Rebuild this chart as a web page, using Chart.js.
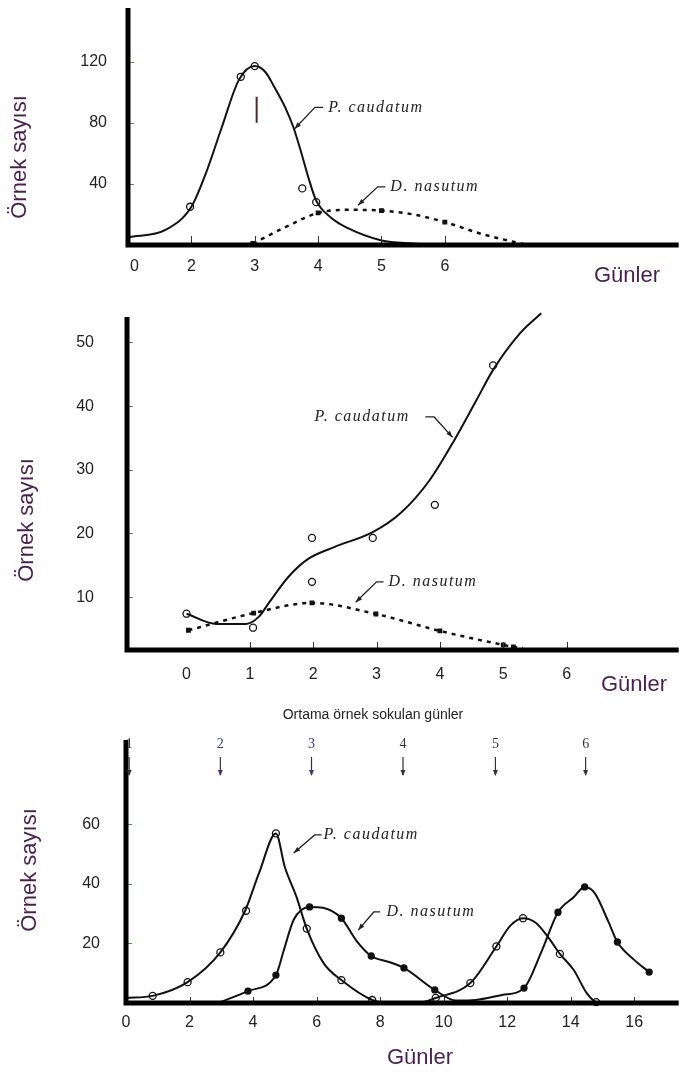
<!DOCTYPE html>
<html>
<head>
<meta charset="utf-8">
<script src="https://cdn.jsdelivr.net/npm/chart.js@4.4.1/dist/chart.umd.min.js"></script>
<style>
  html, body { margin: 0; padding: 0; background: #fff; }
  body { width: 684px; height: 1072px; position: relative; overflow: hidden; }
  canvas { position: absolute; left: 0; }
</style>
</head>
<body>
<canvas id="panel1" width="684" height="290" style="top:0"></canvas>
<canvas id="panel2" width="684" height="410" style="top:290px"></canvas>
<canvas id="panel3" width="684" height="372" style="top:700px"></canvas>
<script>
// ---- panel 1 ----
const p1XTicks = [1.1, 2, 3, 4, 5, 6];
const p1XLabels = ['0', '2', '3', '4', '5', '6'];
const p1YTicks = [40, 80, 120];
const p1CaudatumCurveX = [1.0, 1.6, 2.0, 2.23, 2.48, 2.75, 3.0, 3.17, 3.3, 3.48, 3.61, 3.73, 3.84, 3.97, 4.2, 4.47, 5.0, 5.5, 5.9];
const p1CaudatumCurveY = [5, 10, 25, 47, 77, 108, 117, 113, 104, 90, 77, 61, 45, 29, 18, 11, 3, 1, 0];
const p1CaudatumObsX = [1.98, 2.78, 3.0, 3.75, 3.97];
const p1CaudatumObsY = [25, 110, 117, 37, 28];
const p1NasutumCurveX = [2.97, 3.5, 4.0, 4.5, 5.0, 5.5, 6.0, 6.6, 7.3];
const p1NasutumCurveY = [1, 12, 21, 23, 22.5, 20, 15, 7, 0];
const p1NasutumObsX = [2.97, 4.0, 5.0, 6.0];
const p1NasutumObsY = [1, 21, 22.5, 15];
const p1PeakMarkX = [3.03, 3.03];
const p1PeakMarkY = [80, 97];

// ---- panel 2 ----
const p2XTicks = [0, 1, 2, 3, 4, 5, 6];
const p2XLabels = ['0', '1', '2', '3', '4', '5', '6'];
const p2YTicks = [10, 20, 30, 40, 50];
const p2CaudatumCurveX = [0, 0.47, 0.94, 1.14, 1.3, 1.61, 1.92, 2.34, 2.94, 3.38, 3.84, 4.23, 4.58, 4.84, 5.27, 5.6];
const p2CaudatumCurveY = [7.4, 5.8, 5.8, 6.9, 9.1, 13.2, 16, 17.9, 20.2, 23.2, 28.4, 34.7, 41, 45.7, 51.5, 54.6];
const p2CaudatumObsX = [0, 1.05, 1.98, 1.98, 2.94, 3.92, 4.84];
const p2CaudatumObsY = [7.4, 5.2, 19.3, 12.4, 19.3, 24.5, 46.4];
const p2NasutumCurveX = [0.03, 1.06, 1.98, 2.99, 4.0, 5.0, 5.16, 5.31];
const p2NasutumCurveY = [4.8, 7.5, 9.1, 7.35, 4.7, 2.5, 2.2, 2.0];
const p2NasutumObsX = [0.03, 1.06, 1.98, 2.99, 4.0, 5.0, 5.16];
const p2NasutumObsY = [4.8, 7.5, 9.1, 7.35, 4.7, 2.5, 2.2];

// ---- panel 3 ----
const p3XTicks = [0, 2, 4, 6, 8, 10, 12, 14, 16];
const p3XLabels = ['0', '2', '4', '6', '8', '10', '12', '14', '16'];
const p3YTicks = [20, 40, 60];
const p3CaudatumCurveX = [0, 0.84, 1.94, 2.97, 3.75, 4.19, 4.72, 5.0, 5.37, 5.69, 6.22, 6.78, 7.75, 8.3, 9.2, 9.75, 10.84, 11.66, 12.1, 12.5, 12.9, 13.3, 13.66, 14.1, 14.5, 14.8, 15.0];
const p3CaudatumCurveY = [1.7, 2.4, 7, 17, 31, 43.7, 57, 45.7, 35.6, 25, 13.4, 7.7, 1, 0, 0, 1.7, 6.7, 19, 26, 28.5, 27, 22, 16.5, 11, 3.4, 0.3, 0];
const p3CaudatumObsX = [0.84, 1.94, 2.97, 3.78, 4.72, 5.69, 6.78, 7.75, 9.75, 10.84, 11.66, 12.5, 13.66, 14.8];
const p3CaudatumObsY = [2.4, 7, 17, 31, 57, 25, 7.7, 1, 1.7, 6.7, 19, 28.5, 16.5, 0.3];
const p3NasutumCurveX = [2.9, 3.84, 4.72, 4.97, 5.28, 5.78, 6.2, 6.78, 7.25, 7.72, 8.28, 8.75, 9.72, 10.4, 11.0, 11.84, 12.53, 13.1, 13.6, 14.1, 14.44, 14.75, 15.2, 15.47, 16.0, 16.47];
const p3NasutumCurveY = [0, 4, 9.4, 17.8, 28, 32.3, 32, 28.5, 21, 15.8, 13.8, 11.8, 4.4, 0.8, 1, 2.7, 5, 17.8, 30.5, 35.6, 39, 37, 27, 20.5, 14.5, 10.4];
const p3NasutumObsX = [3.84, 4.72, 5.78, 6.78, 7.72, 8.75, 9.72, 12.53, 13.6, 14.44, 15.47, 16.47];
const p3NasutumObsY = [4, 9.4, 32.3, 28.5, 15.8, 11.8, 4.4, 5, 30.5, 39, 20.5, 10.4];
const p3IntroDays = [0.1, 2.97, 5.84, 8.72, 11.63, 14.47];
const p3IntroLabels = ['1', '2', '3', '4', '5', '6'];

const Y_TITLE = 'Örnek sayısı';
const X_TITLE = 'Günler';
const TOP_TITLE = 'Ortama örnek sokulan günler';

Chart.defaults.font.family = '"Liberation Sans", Arial, sans-serif';

const pts = (xs, ys) => xs.map((x, i) => ({ x, y: ys[i] }));

function curve(xs, ys, dash, width) {
  return {
    data: pts(xs, ys),
    showLine: true,
    borderColor: '#111',
    borderWidth: width,
    borderDash: dash,
    pointRadius: 0,
    cubicInterpolationMode: 'monotone',
    clip: false,
  };
}

function markers(xs, ys, style, filled, r) {
  return {
    data: pts(xs, ys),
    showLine: false,
    pointStyle: style,
    pointRadius: r,
    pointBorderWidth: 1.3,
    pointBorderColor: '#111',
    pointBackgroundColor: filled ? '#111' : '#fff',
    clip: false,
  };
}

// axes, inside ticks, free texts and leader lines
function overlay(cfg) {
  return {
    id: 'overlay',
    afterDatasetsDraw(chart) {
      const { ctx, chartArea: a, scales: { x, y } } = chart;
      const px = v => x.getPixelForValue(v);
      const py = v => y.getPixelForValue(v);
      ctx.save();

      ctx.lineWidth = 1;
      ctx.strokeStyle = '#333';
      cfg.xMarks.forEach(v => {
        const p = Math.round(px(v)) + 0.5;
        ctx.beginPath(); ctx.moveTo(p, a.bottom); ctx.lineTo(p, a.bottom - cfg.xMarkLen); ctx.stroke();
      });
      ctx.strokeStyle = '#4f8a4f';
      cfg.yMarks.forEach(v => {
        const p = Math.round(py(v)) + 0.5;
        ctx.beginPath(); ctx.moveTo(a.left, p); ctx.lineTo(a.left + 6, p); ctx.stroke();
      });

      // thick axes
      ctx.strokeStyle = '#000';
      ctx.lineWidth = 5;
      ctx.beginPath();
      ctx.moveTo(a.left, a.top);
      ctx.lineTo(a.left, a.bottom);
      ctx.lineTo(a.right, a.bottom);
      ctx.stroke();

      // species labels with leader arrows
      ctx.font = 'italic 16px "Liberation Serif", "Times New Roman", serif';
      ctx.letterSpacing = '1.5px';
      ctx.fillStyle = '#222';
      ctx.textAlign = 'left';
      ctx.textBaseline = 'middle';
      cfg.labels.forEach(l => {
        ctx.fillText(l.text, px(l.x), py(l.y));
        const pp = l.leader.map(([lx, ly]) => [px(lx), py(ly)]);
        ctx.strokeStyle = '#222';
        ctx.lineWidth = 1.3;
        ctx.beginPath();
        pp.forEach(([qx, qy], i) => i ? ctx.lineTo(qx, qy) : ctx.moveTo(qx, qy));
        ctx.stroke();
        const [ax, ay] = pp[pp.length - 1];
        const [bx, by] = pp[pp.length - 2];
        const ang = Math.atan2(ay - by, ax - bx);
        ctx.fillStyle = '#222';
        ctx.beginPath();
        ctx.moveTo(ax, ay);
        ctx.lineTo(ax - 7 * Math.cos(ang - 0.35), ay - 7 * Math.sin(ang - 0.35));
        ctx.lineTo(ax - 7 * Math.cos(ang + 0.35), ay - 7 * Math.sin(ang + 0.35));
        ctx.closePath();
        ctx.fill();
      });
      ctx.letterSpacing = '0px';

      // axis titles
      ctx.fillStyle = '#4a1f4f';
      ctx.font = '22px "Liberation Sans", Arial, sans-serif';
      ctx.textAlign = 'center';
      ctx.fillText(X_TITLE, cfg.xTitle[0], cfg.xTitle[1]);
      ctx.save();
      ctx.translate(cfg.yTitle[0], cfg.yTitle[1]);
      ctx.rotate(-Math.PI / 2);
      ctx.fillText(Y_TITLE, 0, 0);
      ctx.restore();

      if (cfg.intro) {
        ctx.fillStyle = '#222';
        ctx.font = '14px "Liberation Sans", Arial, sans-serif';
        ctx.fillText(TOP_TITLE, 373, 15);
        ctx.font = '14px "Liberation Serif", "Times New Roman", serif';
        cfg.intro.days.forEach((d, i) => {
          const p = px(d);
          ctx.fillStyle = i === 1 || i === 2 ? '#3a3a7a' : '#333';
          ctx.fillText(cfg.intro.labels[i], p, a.top + 4);
          ctx.strokeStyle = '#333';
          ctx.lineWidth = 1.2;
          ctx.beginPath(); ctx.moveTo(p, a.top + 17); ctx.lineTo(p, a.top + 35); ctx.stroke();
          ctx.beginPath();
          ctx.moveTo(p, a.top + 36); ctx.lineTo(p - 2.5, a.top + 30); ctx.lineTo(p + 2.5, a.top + 30);
          ctx.closePath(); ctx.fill();
        });
      }
      ctx.restore();
    },
  };
}

function makePanel(id, cfg) {
  return new Chart(document.getElementById(id), {
    type: 'scatter',
    data: { datasets: cfg.datasets },
    options: {
      responsive: false,
      animation: false,
      events: [],
      layout: { padding: { top: cfg.top, left: 0, right: 0, bottom: 0 } },
      plugins: { legend: { display: false }, tooltip: { enabled: false } },
      scales: {
        x: {
          type: 'linear',
          min: cfg.xMin,
          max: cfg.xMax,
          grid: { display: false, drawTicks: false },
          border: { display: false },
          afterFit: s => { s.height = cfg.xAxisHeight; s.paddingLeft = 0; s.paddingRight = 0; },
          afterBuildTicks: s => { s.ticks = cfg.xTicks.map(v => ({ value: v })); },
          ticks: {
            padding: cfg.xPad,
            color: '#222',
            font: { size: 16 },
            autoSkip: false,
            maxRotation: 0,
            callback: v => cfg.xLabels[cfg.xTicks.indexOf(v)],
          },
        },
        y: {
          type: 'linear',
          min: cfg.yMin,
          max: cfg.yMax,
          grid: { display: false, drawTicks: false },
          border: { display: false },
          // label padding would otherwise push the plot top down
          afterFit: s => { s.width = cfg.left; s.paddingTop = 0; s.paddingBottom = 0; },
          afterBuildTicks: s => { s.ticks = cfg.yTicks.map(v => ({ value: v })); },
          ticks: { padding: cfg.yPad, color: '#222', font: { size: 16 }, callback: v => String(v) },
        },
      },
    },
    plugins: [overlay(cfg)],
  });
}

makePanel('panel1', {
  top: 8, left: 128, xAxisHeight: 45, xPad: 12, yPad: 21,
  xMin: 1, xMax: 9.69, yMin: 0, yMax: 155,
  xTicks: p1XTicks, xLabels: p1XLabels, yTicks: p1YTicks,
  xMarks: [2, 3, 4, 5, 6], xMarkLen: 9, yMarks: p1YTicks,
  xTitle: [627, 276], yTitle: [20, 157],
  labels: [
    { text: 'P. caudatum', x: 4.16, y: 90, leader: [[4.08, 90], [3.95, 90], [3.63, 76]] },
    { text: 'D. nasutum', x: 5.14, y: 38, leader: [[5.06, 38], [4.94, 38], [4.63, 26]] },
  ],
  datasets: [
    curve(p1CaudatumCurveX, p1CaudatumCurveY, [], 2),
    curve(p1NasutumCurveX, p1NasutumCurveY, [4, 5], 2.5),
    { data: pts(p1PeakMarkX, p1PeakMarkY), showLine: true, borderColor: '#4a2a2a', borderWidth: 2, pointRadius: 0 },
    markers(p1CaudatumObsX, p1CaudatumObsY, 'circle', false, 3.5),
    markers(p1NasutumObsX, p1NasutumObsY, 'rect', true, 2.5),
  ],
});

makePanel('panel2', {
  top: 27, left: 127, xAxisHeight: 50, xPad: 15, yPad: 33,
  xMin: -0.94, xMax: 7.77, yMin: 1.7, yMax: 54,
  xTicks: p2XTicks, xLabels: p2XLabels, yTicks: p2YTicks,
  xMarks: [1, 2, 3, 4, 5, 6], xMarkLen: 8, yMarks: p2YTicks,
  xTitle: [634, 395], yTitle: [27, 230],
  labels: [
    { text: 'P. caudatum', x: 2.02, y: 38.3, leader: [[3.77, 38.3], [3.91, 38.3], [4.2, 35.1]] },
    { text: 'D. nasutum', x: 3.19, y: 12.4, leader: [[3.11, 12.4], [3.0, 12.4], [2.67, 9.2]] },
  ],
  datasets: [
    curve(p2CaudatumCurveX, p2CaudatumCurveY, [], 2),
    curve(p2NasutumCurveX, p2NasutumCurveY, [4, 5], 2.5),
    markers(p2CaudatumObsX, p2CaudatumObsY, 'circle', false, 3.5),
    markers(p2NasutumObsX, p2NasutumObsY, 'rect', true, 2.5),
  ],
});

makePanel('panel3', {
  top: 40, left: 126, xAxisHeight: 69, xPad: 10, yPad: 26,
  xMin: 0, xMax: 17.4, yMin: 0, yMax: 88.4,
  xTicks: p3XTicks, xLabels: p3XLabels, yTicks: p3YTicks,
  xMarks: [2, 4, 6, 8, 10, 12, 14, 16], xMarkLen: 6, yMarks: p3YTicks,
  xTitle: [420, 358], yTitle: [30, 170],
  intro: { days: p3IntroDays, labels: p3IntroLabels },
  labels: [
    { text: 'P. caudatum', x: 6.22, y: 56.5, leader: [[6.16, 56.5], [5.94, 56.5], [5.28, 50.4]] },
    { text: 'D. nasutum', x: 8.2, y: 30.6, leader: [[8.0, 30.6], [7.8, 30.6], [7.31, 24.5]] },
  ],
  datasets: [
    curve(p3CaudatumCurveX, p3CaudatumCurveY, [], 2),
    curve(p3NasutumCurveX, p3NasutumCurveY, [], 2),
    markers(p3CaudatumObsX, p3CaudatumObsY, 'circle', false, 3.5),
    markers(p3NasutumObsX, p3NasutumObsY, 'circle', true, 3),
  ],
});
</script>
</body>
</html>
